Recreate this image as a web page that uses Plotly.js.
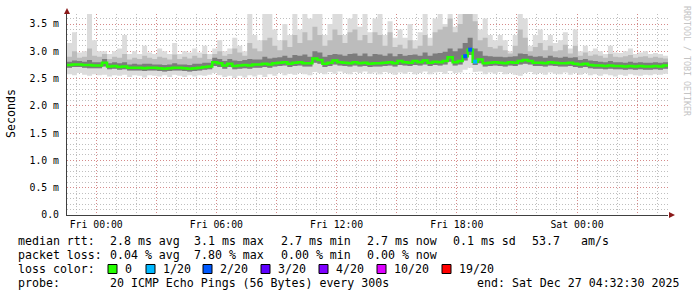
<!DOCTYPE html>
<html><head><meta charset="utf-8">
<script src="https://cdn.plot.ly/plotly-3.0.1.min.js"></script>
<style>html,body{margin:0;padding:0;background:#fff}#chart{width:697px;height:297px}</style>
</head><body><div id="chart"></div>
<script>
// ---- data (ms), one value per 15-minute step, starting Thu 22:32:30 ----
const startUTC = [2025, 11, 25, 22, 32, 30];
const stepMinutes = 15;

const medianRtt = [2.75,2.76,2.76,2.75,2.75,2.74,
 2.74,2.79,2.72,2.73, 2.71,2.72,2.70,2.70, 2.70,2.69,2.70,2.70, 2.69,2.68,2.69,2.70,
 2.70,2.69,2.68,2.69, 2.70,2.71,2.72,2.80, 2.78,2.74,2.77,2.73, 2.74,2.75,2.74,2.76,
 2.76,2.77,2.76,2.78, 2.79,2.80,2.77,2.79, 2.80,2.78,2.78,2.87, 2.84,2.77,2.79,2.83,
 2.80,2.79,2.78,2.80, 2.78,2.79,2.77,2.78, 2.78,2.79,2.80,2.78, 2.82,2.80,2.79,2.82,
 2.80,2.83,2.79,2.81, 2.80,2.82,2.89,2.80, 2.82,2.91,3.03,2.81, 2.85,2.78,2.79,2.80,
 2.79,2.78,2.80,2.79, 2.82,2.84,2.82,2.79, 2.79,2.78,2.80,2.79, 2.78,2.78,2.79,2.77,
 2.76,2.77,2.75,2.74, 2.74,2.73,2.74,2.73, 2.73,2.72,2.73,2.72, 2.73,2.72,2.72,2.73,
 2.72,2.74];

const pingMin = [2.58,2.56,2.60,2.57,2.55,2.58,
 2.56,2.57,2.54,2.56, 2.55,2.57,2.53,2.56, 2.55,2.52,2.56,2.55, 2.54,2.56,2.53,2.57,
 2.55,2.53,2.56,2.54, 2.56,2.55,2.57,2.60, 2.56,2.53,2.55,2.51, 2.55,2.52,2.56,2.54,
 2.57,2.53,2.58,2.55, 2.60,2.56,2.59,2.57, 2.60,2.58,2.56,2.62, 2.60,2.58,2.62,2.59,
 2.63,2.60,2.58,2.62, 2.60,2.63,2.59,2.61, 2.58,2.62,2.60,2.57, 2.61,2.59,2.62,2.58,
 2.60,2.63,2.58,2.61, 2.62,2.59,2.64,2.60, 2.61,2.66,2.70,2.62, 2.63,2.58,2.61,2.59,
 2.62,2.58,2.60,2.57, 2.55,2.60,2.62,2.58, 2.60,2.57,2.61,2.59, 2.58,2.61,2.57,2.60,
 2.57,2.60,2.56,2.58, 2.55,2.58,2.56,2.54, 2.57,2.55,2.58,2.56, 2.55,2.57,2.56,2.58,
 2.57,2.59];

const pingLowQ = [2.70,2.71,2.71,2.70,2.69,2.69,
 2.69,2.72,2.67,2.68, 2.66,2.67,2.65,2.65, 2.65,2.64,2.65,2.65, 2.64,2.63,2.64,2.65,
 2.65,2.64,2.63,2.64, 2.65,2.66,2.67,2.73, 2.71,2.68,2.71,2.67, 2.68,2.69,2.68,2.70,
 2.70,2.71,2.70,2.72, 2.73,2.74,2.71,2.73, 2.74,2.72,2.72,2.79, 2.77,2.71,2.73,2.76,
 2.74,2.73,2.72,2.74, 2.72,2.73,2.71,2.72, 2.72,2.73,2.74,2.72, 2.75,2.74,2.73,2.75,
 2.74,2.76,2.73,2.75, 2.74,2.76,2.81,2.74, 2.76,2.83,2.93,2.75, 2.78,2.72,2.73,2.74,
 2.73,2.72,2.74,2.73, 2.76,2.77,2.76,2.73, 2.73,2.72,2.74,2.73, 2.72,2.72,2.73,2.71,
 2.70,2.71,2.69,2.68, 2.68,2.67,2.68,2.67, 2.67,2.66,2.67,2.66, 2.67,2.66,2.66,2.67,
 2.66,2.68];

const pingHighQ = [2.81,2.83,2.82,2.81,2.84,2.80,
 2.80,2.86,2.78,2.80, 2.78,2.80,2.76,2.77, 2.76,2.77,2.77,2.76, 2.76,2.75,2.76,2.78,
 2.76,2.76,2.75,2.77, 2.77,2.79,2.79,2.88, 2.86,2.82,2.86,2.83, 2.82,2.84,2.86,2.85,
 2.85,2.90,2.87,2.88, 2.89,2.92,2.88,2.93, 2.92,2.94,2.90,3.00, 2.98,2.90,2.93,2.95,
 2.94,2.92,2.95,2.96, 2.92,2.96,2.91,2.95, 2.94,2.92,2.96,2.91, 2.95,2.92,2.93,2.94,
 2.92,2.98,2.92,2.96, 2.97,2.99,3.05,3.00, 3.05,3.15,3.25,3.05, 3.00,2.92,2.91,2.90,
 2.90,2.89,2.90,2.91, 2.96,2.95,2.92,2.90, 2.91,2.88,2.92,2.89, 2.88,2.90,2.88,2.89,
 2.84,2.86,2.83,2.82, 2.81,2.80,2.82,2.80, 2.80,2.79,2.81,2.79, 2.80,2.79,2.79,2.80,
 2.79,2.80];

const pingP90 = [2.90,3.00,2.88,2.90,3.05,2.92,
 2.90,2.95,2.86,2.90, 2.88,2.95,2.85,2.88, 2.86,2.92,2.88,2.86, 2.90,2.88,2.85,2.94,
 2.86,2.90,2.87,2.92, 2.88,2.95,2.86,2.95, 3.00,2.92,2.95,3.05, 2.98,2.92,3.15,3.05,
 3.00,3.20,3.25,3.10, 3.02,3.20,3.08,3.30, 3.15,3.35,3.20,3.45, 3.30,3.10,3.20,3.40,
 3.30,3.15,3.35,3.40, 3.20,3.30,3.15,3.35, 3.30,3.10,3.35,3.08, 3.12,3.05,3.20,3.05,
 3.10,3.30,3.10,3.35, 3.40,3.45,3.60,3.35, 3.50,3.70,3.75,3.55, 3.20,3.25,3.08,3.05,
 3.10,3.02,2.96,3.10, 3.40,3.25,3.00,3.08, 3.15,3.02,3.10,3.00, 3.02,3.12,2.96,3.10,
 2.92,2.98,2.92,2.94, 2.92,2.88,2.95,2.90, 2.89,2.91,2.93,2.88, 2.90,2.91,2.88,2.90,
 2.88,2.87];

const pingMax = [3.15,3.35,2.98,3.00,3.75,3.20,
 3.00,3.00,2.95,3.00, 3.05,3.30,2.95,3.00, 2.95,3.10,2.98,2.95, 3.05,3.00,2.95,3.15,
 2.95,3.00,2.98,3.05, 2.98,3.10,2.95,3.05, 3.20,3.00,3.05,3.25, 3.10,3.00,3.75,3.30,
 3.20,3.75,3.75,3.40, 3.20,3.50,3.30,3.75, 3.40,3.75,3.60,3.75, 3.75,3.30,3.50,3.75,
 3.75,3.30,3.60,3.75, 3.45,3.75,3.35,3.60, 3.75,3.30,3.55,3.25, 3.40,3.25,3.50,3.20,
 3.35,3.75,3.25,3.60, 3.75,3.50,3.75,3.45, 3.75,3.75,3.75,3.75, 3.40,3.60,3.30,3.20,
 3.30,3.20,3.00,3.30, 3.75,3.60,3.10,3.30, 3.40,3.20,3.30,3.15, 3.20,3.35,3.05,3.40,
 3.00,3.10,3.00,3.05, 3.00,2.95,3.10,2.98, 2.97,3.00,3.05,2.95, 2.98,3.00,2.95,2.97,
 2.95,2.92];

const lossCount = [0,0,0,0,0,0,0,0,0,0, 0,0,0,0,0,0,0,0,0,0, 0,0,0,0,0,0,0,0,0,0,
 0,0,0,0,0,0,0,0,0,0, 0,0,0,0,0,0,0,0,0,0, 0,0,0,0,0,0,0,0,0,0,
 0,0,0,0,0,0,0,0,0,0, 0,0,0,0,0,0,0,0,0,2, 2,1,0,0,0,0,0,0,0,0,
 0,0,0,0,0,0,0,0,0,0, 0,0,0,0,0,0,0,0,0,0, 0,0,0,0,0,0,0,0,0,0];

const lossLevels = [0, 1, 2, 3, 4, 10, 19];
const lossLabels = ['0', '1/20', '2/20', '3/20', '4/20', '10/20', '19/20'];
const lossColors = ['#26ff00', '#00b8ff', '#0059ff', '#5e00ff', '#7e00ff', '#dd00ff', '#ff0000'];

const tickTimes = ['2025-12-26 00:00','2025-12-26 03:00','2025-12-26 06:00','2025-12-26 09:00',
 '2025-12-26 12:00','2025-12-26 15:00','2025-12-26 18:00','2025-12-26 21:00',
 '2025-12-27 00:00','2025-12-27 03:00'];
const tickLabels = ['Fri 00:00','','Fri 06:00','','Fri 12:00','','Fri 18:00','','Sat 00:00',''];
const yTickVals = [0, 0.5, 1.0, 1.5, 2.0, 2.5, 3.0, 3.5];
const yTickLabels = ['0.0','0.5 m','1.0 m','1.5 m','2.0 m','2.5 m','3.0 m','3.5 m'];

// ---- build ----
const t0 = Date.UTC(...startUTC);
const stepMs = stepMinutes * 60000;
const n = medianRtt.length;
const xs = [];
for (let i = 0; i <= n; i++) xs.push(t0 + i * stepMs);
const ext = a => a.concat([a[a.length - 1]]);

const stepTrace = (y, extra) => Object.assign({
  x: xs, y: ext(y), type: 'scatter', mode: 'lines',
  line: {shape: 'hv', width: 0, color: 'rgba(0,0,0,0)'}, hoverinfo: 'skip', showlegend: false
}, extra || {});

const traces = [
  stepTrace(pingMin),
  stepTrace(pingMax, {fill: 'tonexty', fillcolor: '#dcdcdc'}),
  stepTrace(pingLowQ),
  stepTrace(pingP90, {fill: 'tonexty', fillcolor: '#bcbcbc'}),
  stepTrace(pingLowQ),
  stepTrace(pingHighQ, {fill: 'tonexty', fillcolor: '#7c7c7c'}),
  stepTrace(medianRtt, {line: {shape: 'hv', width: 2.5, color: lossColors[0]}})
];
// loss-coloured median points
for (let k = 1; k < lossLevels.length; k++) {
  const mx = [], my = [];
  for (let i = 0; i < n; i++) {
    let lvl = 0;
    for (let j = 0; j < lossLevels.length; j++) if (lossCount[i] >= lossLevels[j]) lvl = j;
    if (lossCount[i] > 0 && lvl === k) { mx.push(t0 + (i + 0.5) * stepMs); my.push(medianRtt[i]); }
  }
  if (mx.length) traces.push({x: mx, y: my, type: 'scatter', mode: 'markers',
    marker: {symbol: 'square', size: 4, color: lossColors[k], line: {width: 0}}, showlegend: false, hoverinfo: 'skip'});
}

// pixel helpers
const L = 67, R = 668, T = 14, B = 215;
const px = x => (x - L) / (R - L);
const py = y => (B - y) / (B - T);
const MONO = 'DejaVu Sans Mono';
const FS = 11.6;
const AXFS = 9.8;
const ann = [];
const txt = (x, y, s, anchor, extra) => ann.push(Object.assign({
  xref: 'paper', yref: 'paper', x: px(x), y: py(y), text: s.replace(/ /g, '\u00a0'),
  showarrow: false, xanchor: anchor || 'left', yanchor: 'middle',
  font: {family: MONO, size: FS, color: '#000'}
}, extra || {}));

// line 1
txt(16, 241, 'median rtt:');
txt(107.6, 241, '2.8 ms avg'); txt(192.4, 241, '3.1 ms max'); txt(279, 241, '2.7 ms min');
txt(365, 241, '2.7 ms now'); txt(451, 241, '0.1 ms sd'); txt(530, 241, '53.7'); txt(579, 241, 'am/s');
// line 2
txt(16, 255, 'packet loss:');
txt(107.6, 255, '0.04 % avg'); txt(192.4, 255, '7.80 % max'); txt(279, 255, '0.00 % min'); txt(365, 255, '0.00 % now');
// line 3
txt(16, 269, 'loss color:');
const sqX = [108, 146, 203, 261, 319, 377, 442];
const shapes = [];
for (let k = 0; k < lossLabels.length; k++) {
  shapes.push({type: 'rect', xref: 'paper', yref: 'paper', x0: px(sqX[k]), x1: px(sqX[k] + 9),
    y0: py(273.5), y1: py(264.5), fillcolor: lossColors[k], line: {color: '#000', width: 1}});
  txt(sqX[k] + 14.5, 269, lossLabels[k]);
}
// line 4
txt(16, 283, 'probe:');
txt(107.6, 283, '20 ICMP Echo Pings (56 Bytes) every 300s');
txt(681, 283, 'end: Sat Dec 27 04:32:30 2025', 'right');
// y title
txt(11, 114, 'Seconds', 'center', {textangle: -90, xanchor: 'center'});
// watermark
ann.push({xref: 'paper', yref: 'paper', x: px(687), y: py(61), text: 'RRDTOOL\u00a0/\u00a0TOBI\u00a0OETIKER',
  showarrow: false, textangle: 90, xanchor: 'center', yanchor: 'middle',
  font: {family: MONO, size: 8.3, color: '#c4c4c4'}});

// axis arrows
shapes.push({type: 'path', xref: 'paper', yref: 'paper', layer: 'above',
  path: `M ${px(64)} ${py(14)} L ${px(70)} ${py(14)} L ${px(67)} ${py(8)} Z`,
  fillcolor: '#8b1a1a', line: {width: 0}});
shapes.push({type: 'path', xref: 'paper', yref: 'paper', layer: 'above',
  path: `M ${px(669)} ${py(212)} L ${px(669)} ${py(218)} L ${px(675)} ${py(215)} Z`,
  fillcolor: '#8b1a1a', line: {width: 0}});

const majorGrid = 'rgba(220,120,120,0.75)';
const minorGrid = 'rgba(175,175,175,0.8)';
const layout = {
  width: 697, height: 297,
  margin: {l: L, r: 697 - R, t: T, b: 297 - B, pad: 0},
  paper_bgcolor: '#fff', plot_bgcolor: '#fff',
  showlegend: false,
  xaxis: {
    type: 'date', range: [t0, t0 + n * stepMs],
    tickmode: 'array', tickvals: tickTimes, ticktext: tickLabels,
    showgrid: true, gridcolor: majorGrid, griddash: '1px,2px', gridwidth: 1,
    minor: {dtick: 3600000, tick0: '2025-12-26 00:00', showgrid: true, gridcolor: minorGrid, griddash: '1px,2px', gridwidth: 1},
    showline: true, linecolor: '#404040', linewidth: 1, ticks: '', zeroline: false,
    tickfont: {family: MONO, size: AXFS, color: '#000'}, ticklabelstandoff: 0,
    fixedrange: true
  },
  yaxis: {
    range: [0, (B - T) / ((B - 24) / 3.5)],
    tickmode: 'array', tickvals: yTickVals, ticktext: yTickLabels,
    showgrid: true, gridcolor: majorGrid, griddash: '1px,2px', gridwidth: 1,
    minor: {dtick: 0.1, tick0: 0, showgrid: true, gridcolor: minorGrid, griddash: '1px,2px', gridwidth: 1},
    showline: true, linecolor: '#404040', linewidth: 1, ticks: '', zeroline: false,
    tickfont: {family: MONO, size: AXFS, color: '#000'}, ticklabelstandoff: 5,
    fixedrange: true
  },
  annotations: ann,
  shapes: shapes
};
Plotly.newPlot('chart', traces, layout, {displayModeBar: false, staticPlot: true});
</script>
</body></html>
